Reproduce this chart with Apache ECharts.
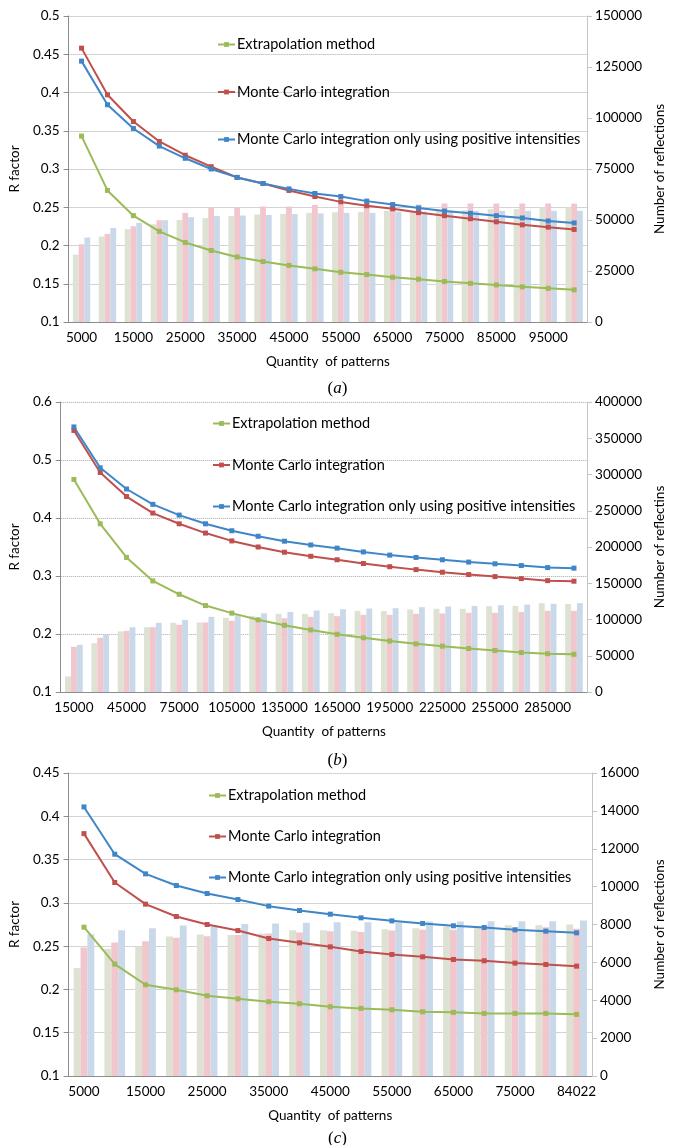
<!DOCTYPE html>
<html>
<head>
<meta charset="utf-8">
<script src="https://cdn.jsdelivr.net/npm/echarts@6/dist/echarts.min.js"></script>
<style>
html,body{margin:0;padding:0;background:#fff;}
#chart{width:675px;height:1145px;}
</style>
</head>
<body>
<div id="chart"></div>
<script>
// ---------- Panel (a) ----------
const catsA = ['5000','10000','15000','20000','25000','30000','35000','40000','45000','50000','55000','60000','65000','70000','75000','80000','85000','90000','95000','100000'];
const rExtA = [0.343,0.272,0.239,0.2185,0.204,0.1935,0.185,0.179,0.174,0.1695,0.165,0.162,0.1585,0.156,0.153,0.1505,0.1485,0.146,0.144,0.142];
const rMcA  = [0.458,0.397,0.362,0.336,0.318,0.303,0.289,0.281,0.272,0.264,0.257,0.252,0.248,0.243,0.239,0.235,0.231,0.227,0.224,0.221];
const rPosA = [0.441,0.384,0.353,0.330,0.314,0.300,0.289,0.281,0.274,0.268,0.264,0.258,0.2535,0.249,0.245,0.242,0.239,0.236,0.232,0.2295];
const nExtA = [33000,41900,45500,47900,50000,50900,51900,52700,53000,53500,53800,54000,54500,54400,54800,54800,55300,55300,56300,56300];
const nMcA  = [38100,43200,46900,49900,53500,55900,55900,56600,56600,57400,57600,57600,57600,57600,58100,58100,58100,58100,58100,58000];
const nPosA = [41400,46100,48600,49900,51400,51900,52200,52500,52900,53200,53500,53500,54100,54100,54600,54500,54500,54500,54500,54500];

// ---------- Panel (b) ----------
const catsB = ['15000','30000','45000','60000','75000','90000','105000','120000','135000','150000','165000','180000','195000','210000','225000','240000','255000','270000','285000','300000'];
const rExtB = [0.4665,0.390,0.332,0.2915,0.2685,0.249,0.236,0.2245,0.215,0.207,0.1995,0.1935,0.188,0.183,0.179,0.175,0.1715,0.168,0.166,0.165];
const rMcB  = [0.551,0.4785,0.437,0.4085,0.390,0.374,0.3605,0.350,0.341,0.334,0.328,0.3215,0.316,0.311,0.3065,0.3025,0.299,0.2955,0.292,0.291];
const rPosB = [0.557,0.4865,0.450,0.4235,0.405,0.390,0.378,0.3685,0.360,0.3535,0.348,0.3415,0.336,0.332,0.328,0.324,0.321,0.318,0.3145,0.3135];
const nExtB = [21600,67400,83500,89400,95400,95900,102300,105000,107800,107800,108700,111900,111500,113800,114700,114700,118300,118800,122500,121600];
const nMcB  = [62400,74800,84400,89400,92700,95900,98200,101000,101800,103700,104600,106400,106400,107800,108300,109200,109200,110500,111900,111900];
const nPosB = [65100,79400,89400,95400,99500,103700,106400,108700,110500,112400,114200,115100,115600,117000,117900,118800,119700,120600,121600,122500];

// ---------- Panel (c) ----------
const catsC = ['5000','10000','15000','20000','25000','30000','35000','40000','45000','50000','55000','60000','65000','70000','75000','80000','84022'];
const rExtC = [0.2719,0.2292,0.2054,0.1996,0.1927,0.1892,0.1858,0.1835,0.180,0.1781,0.1765,0.1742,0.1735,0.1723,0.1723,0.1723,0.1712];
const rMcC  = [0.380,0.3235,0.2985,0.2842,0.275,0.268,0.2588,0.2538,0.2492,0.2438,0.2404,0.2377,0.2346,0.2331,0.2304,0.2288,0.2269];
const rPosC = [0.4108,0.3562,0.3335,0.320,0.3108,0.3038,0.2962,0.2912,0.2869,0.2827,0.2792,0.2762,0.2735,0.2715,0.2688,0.2673,0.2654];
const nExtC = [5700,6720,6840,7370,7470,7440,7520,7700,7700,7670,7750,7800,7890,7840,7960,7960,8000];
const nMcC  = [6790,7050,7120,7300,7380,7440,7520,7580,7650,7610,7680,7720,7720,7790,7860,7860,7770];
const nPosC = [7490,7700,7800,7950,7960,8020,8050,8090,8120,8120,8100,8160,8160,8170,8170,8170,8210];

const seriesNames = ['Extrapolation method','Monte Carlo integration','Monte Carlo integration only using positive intensities'];
const leftName = 'R factor';
const rightNames = ['Number of reflections','Number of reflectins','Number of reflections'];
const xName = 'Quantity  of patterns';
const captions = ['a','b','c'];

const FONT = 'Lato';
const lineColors = ['#9bbb59','#c0504d','#3f86c8'];
const barColors = ['#dde2d2','#f2c6cd','#c9d9e9'];

const grids = [
  {left:67, right:71, top:16, height:306},
  {left:57, right:79, top:402, height:290},
  {left:63, right:71, top:773, height:303}
];
const leftRanges = [[0.1,0.5,0.05],[0.1,0.6,0.1],[0.1,0.45,0.05]];
const rightRanges = [[0,150000,25000],[0,400000,50000],[0,16000,2000]];
const leftNameGaps = [46,36,42];
const legendPos = [{left:212, top:32, gap:32.5},{left:207, top:411, gap:26.5},{left:203, top:783, gap:26}];
const captionTop = [375, 747, 1125];

const panels = [
  {cats:catsA, r:[rExtA,rMcA,rPosA], n:[nExtA,nMcA,nPosA]},
  {cats:catsB, r:[rExtB,rMcB,rPosB], n:[nExtB,nMcB,nPosB]},
  {cats:catsC, r:[rExtC,rMcC,rPosC], n:[nExtC,nMcC,nPosC]}
];

const tick = {color:'#000', fontFamily:FONT, fontSize:13.5};
const nameTxt = {color:'#000', fontFamily:FONT, fontSize:13.5};
const option = {animation:false, grid:grids, xAxis:[], yAxis:[], series:[], legend:[], title:[]};

panels.forEach((p, i) => {
  option.xAxis.push({
    type:'category', gridIndex:i, data:p.cats,
    axisLine:{lineStyle:{color:'#8c8c8c', width:1}},
    axisTick:{interval:0, length:5, lineStyle:{color:'#8c8c8c'}},
    axisLabel:Object.assign({interval:1, margin:9}, tick),
    splitLine:{show:false},
    name:xName, nameLocation:'middle', nameGap:33, nameTextStyle:nameTxt
  });
  option.yAxis.push({
    type:'value', gridIndex:i, position:'left',
    min:leftRanges[i][0], max:leftRanges[i][1], interval:leftRanges[i][2],
    axisLine:{show:true, lineStyle:{color:'#8c8c8c'}},
    axisTick:{show:true, length:5, lineStyle:{color:'#8c8c8c'}},
    axisLabel:Object.assign({margin:9}, tick),
    splitLine:{show:true, lineStyle:{color:'#a8a8a8', type:'dotted', width:1}},
    name:leftName, nameLocation:'middle', nameRotate:90, nameGap:leftNameGaps[i], nameTextStyle:nameTxt
  });
  option.yAxis.push({
    type:'value', gridIndex:i, position:'right',
    min:rightRanges[i][0], max:rightRanges[i][1], interval:rightRanges[i][2],
    axisLine:{show:true, lineStyle:{color:'#c4c4c4'}},
    axisTick:{show:true, length:5, lineStyle:{color:'#c4c4c4'}},
    axisLabel:Object.assign({margin:8, formatter:(v) => String(v)}, tick),
    splitLine:{show:false},
    name:rightNames[i], nameLocation:'middle', nameRotate:90, nameGap:61, nameTextStyle:nameTxt
  });
  for (let k = 0; k < 3; k++) {
    option.series.push({
      type:'bar', name:'bar'+i+k, xAxisIndex:i, yAxisIndex:2*i+1, data:p.n[k],
      barGap:'0%', barCategoryGap:'33%', itemStyle:{color:barColors[k]}, z:1
    });
  }
  for (let k = 0; k < 3; k++) {
    option.series.push({
      type:'line', name:seriesNames[k], xAxisIndex:i, yAxisIndex:2*i, data:p.r[k],
      symbol:'rect', symbolSize:5, lineStyle:{width:2, color:lineColors[k]},
      itemStyle:{color:lineColors[k]}, z:3
    });
  }
  option.legend.push({
    orient:'vertical', left:legendPos[i].left, top:legendPos[i].top, itemGap:legendPos[i].gap,
    itemWidth:17, itemHeight:6, data:seriesNames, selectedMode:false,
    textStyle:{color:'#000', fontFamily:FONT, fontSize:14.5, lineHeight:14, padding:[0,0,0,-3]}
  });
  option.title.push({
    text:'{p|(}{i|' + captions[i] + '}{p|)}', left:'center', top:captionTop[i],
    textStyle:{fontWeight:'normal', rich:{
      p:{fontFamily:'Liberation Serif', fontSize:17, fontWeight:'normal', color:'#000'},
      i:{fontFamily:'Liberation Serif', fontSize:17, fontStyle:'italic', fontWeight:'normal', color:'#000'}
    }}
  });
});

const chart = echarts.init(document.getElementById('chart'), null, {renderer:'canvas'});
chart.setOption(option);
</script>
</body>
</html>
